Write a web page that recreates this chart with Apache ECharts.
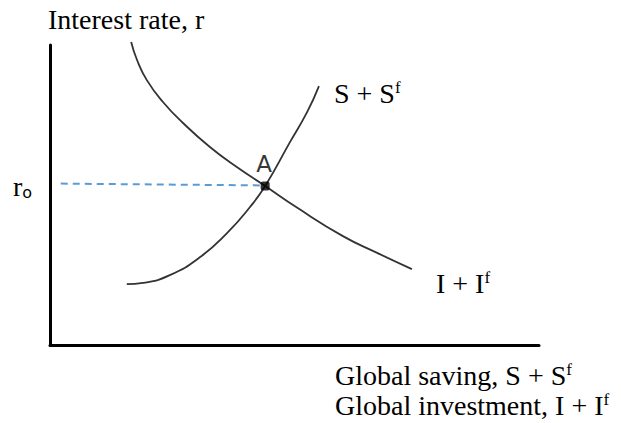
<!DOCTYPE html>
<html>
<head>
<meta charset="utf-8">
<title>Global saving and investment</title>
<script src="https://cdn.jsdelivr.net/npm/echarts@6/dist/echarts.min.js"></script>
<style>
  html, body { margin: 0; padding: 0; background: #ffffff; }
  #chart { width: 621px; height: 423px; }
</style>
</head>
<body>
<div id="chart"></div>
<script>
// curves, in axis units (0..100 on both axes)
const investmentCurve = [
  [16.6, 101], [17.8, 95], [19.8, 88.3], [23.1, 81], [27.2, 74], [32.7, 66],
  [38.2, 59.3], [44.0, 53], [50.5, 45.8], [59.9, 36.3], [66.9, 30.7], [74.0, 25.3]
];
const savingCurve = [
  [15.7, 20.3], [19.0, 20.7], [24.5, 23.3], [30.7, 29.3], [36.2, 37.3], [40.9, 46],
  [44.0, 53], [49.1, 67.7], [52.6, 77.7], [55.0, 86.3]
];
const rateGuide = [[2.2, 53.8], [43.4, 53.2]];
const equilibrium = [[44.0, 53]];

const serif = "'Times New Roman', 'Liberation Serif', serif";
const sans = "'DejaVu Sans', 'Noto Sans', sans-serif";
const ink = "#333333";

// rich styles for the superscript f
const richSup = {
  n: { fontFamily: serif, fontSize: 28, lineHeight: 30, fill: "#000" },
  s: { fontFamily: serif, fontSize: 17, lineHeight: 17, verticalAlign: "top", fill: "#000" }
};

const chart = echarts.init(document.getElementById("chart"), null, { renderer: "svg" });

const option = {
  animation: false,
  backgroundColor: "#ffffff",
  grid: { left: 50, top: 45, width: 489, height: 300 },
  xAxis: {
    type: "value", min: 0, max: 100,
    axisLine: { show: true, lineStyle: { color: "#000", width: 3 } },
    axisTick: { show: false }, axisLabel: { show: false }, splitLine: { show: false }
  },
  yAxis: {
    type: "value", min: 0, max: 100,
    axisLine: { show: true, lineStyle: { color: "#000", width: 3 } },
    axisTick: { show: false }, axisLabel: { show: false }, splitLine: { show: false }
  },
  series: [
    {
      name: "r0 guide", type: "line", data: rateGuide, showSymbol: false, clip: false,
      lineStyle: { color: "#5B9BD5", width: 2, type: [7, 5] }, z: 1
    },
    {
      name: "I + If", type: "line", data: investmentCurve, smooth: 0.5,
      showSymbol: false, clip: false, lineStyle: { color: ink, width: 1.8 }, z: 2
    },
    {
      name: "S + Sf", type: "line", data: savingCurve, smooth: 0.5,
      showSymbol: false, clip: false, lineStyle: { color: ink, width: 1.8 }, z: 2
    },
    {
      name: "A", type: "scatter", data: equilibrium, symbol: "roundRect", symbolSize: 9,
      itemStyle: { color: "#000" }, z: 3,
      label: {
        show: true, position: "top", distance: 6, offset: [-1, 0],
        formatter: "A", fontFamily: sans, fontSize: 23, color: "#000"
      }
    }
  ],
  graphic: [
    {
      type: "text", x: 48, y: 19.5,
      style: { text: "Interest rate, r", fontFamily: serif, fontSize: 28, fill: "#000", align: "left", verticalAlign: "middle" }
    },
    {
      type: "text", x: 13, y: 186.5,
      style: {
        text: "{r|r}{o|o}", align: "left", verticalAlign: "middle",
        rich: {
          r: { fontFamily: serif, fontSize: 28, lineHeight: 28, fill: "#000" },
          o: { fontFamily: sans, fontSize: 16, lineHeight: 12, verticalAlign: "bottom", fill: "#000" }
        }
      }
    },
    {
      type: "text", x: 334, y: 93.5,
      style: { text: "{n|S + S}{s|f}", rich: richSup, align: "left", verticalAlign: "middle" }
    },
    {
      type: "text", x: 436, y: 283.5,
      style: { text: "{n|I + I}{s|f}", rich: richSup, align: "left", verticalAlign: "middle" }
    },
    {
      type: "text", x: 335, y: 360.5,
      style: {
        text: "{n|Global saving, S + S}{s|f}\n{n|Global investment, I + I}{s|f}",
        rich: richSup, align: "left", verticalAlign: "top"
      }
    }
  ]
};

chart.setOption(option);
</script>
</body>
</html>
